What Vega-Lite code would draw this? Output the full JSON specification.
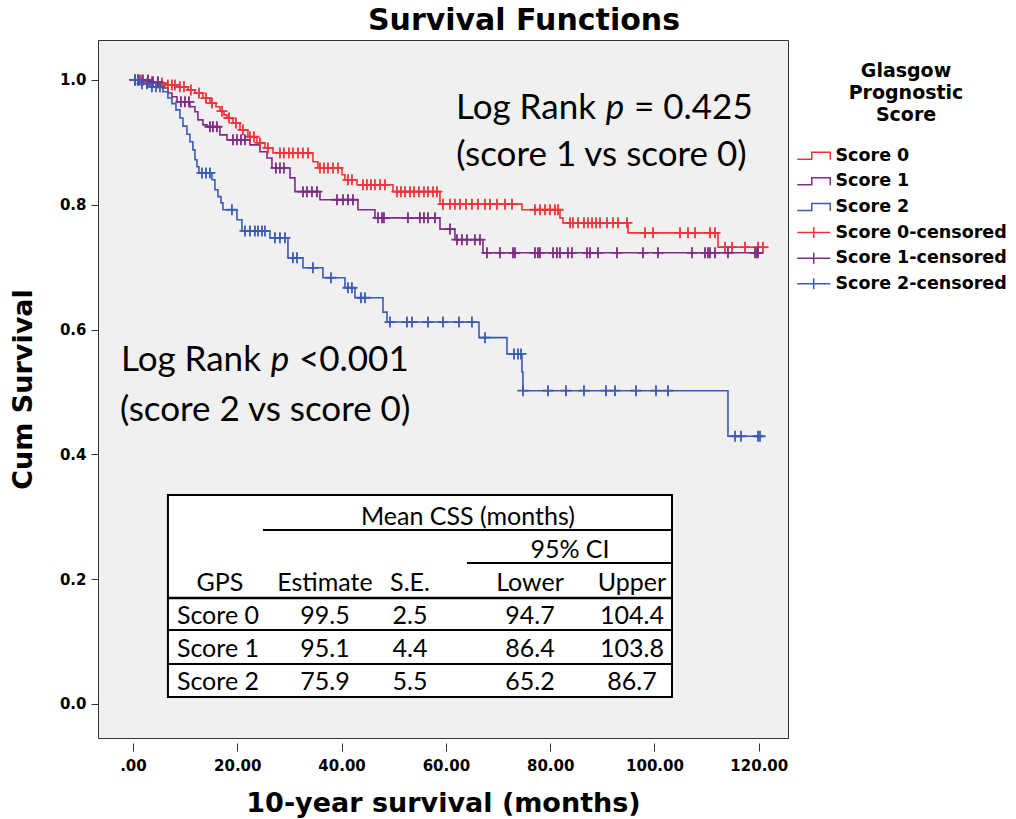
{
  "$schema": "https://vega.github.io/schema/vega-lite/v6.json",
  "width": 690,
  "height": 698,
  "autosize": {"type": "none"},
  "padding": {"left": 98, "top": 40, "right": 228, "bottom": 81},
  "background": "white",
  "title": {"text": "Survival Functions", "font": "DejaVu Sans", "fontSize": 30, "fontWeight": "bold", "color": "black", "anchor": "middle", "dx": 81, "offset": 4},
  "config": {"view": {"fill": "#f0f0f0", "stroke": "#333333", "strokeWidth": 1}},
  "datasets": {
    "curves": [
      {"series":"Score 0","t":0,"s":1.0},{"series":"Score 0","t":2.30,"s":0.997},{"series":"Score 0","t":4.22,"s":0.995},{"series":"Score 0","t":6.14,"s":0.992},{"series":"Score 0","t":8.44,"s":0.989},{"series":"Score 0","t":10.55,"s":0.984},{"series":"Score 0","t":11.89,"s":0.979},{"series":"Score 0","t":13.42,"s":0.971},{"series":"Score 0","t":14.76,"s":0.963},{"series":"Score 0","t":15.92,"s":0.957},{"series":"Score 0","t":16.68,"s":0.950},{"series":"Score 0","t":17.45,"s":0.944},{"series":"Score 0","t":18.02,"s":0.939},{"series":"Score 0","t":19.18,"s":0.931},{"series":"Score 0","t":20.52,"s":0.920},{"series":"Score 0","t":22.05,"s":0.909},{"series":"Score 0","t":23.78,"s":0.899},{"series":"Score 0","t":25.31,"s":0.891},{"series":"Score 0","t":26.85,"s":0.883},{"series":"Score 0","t":34.52,"s":0.869},{"series":"Score 0","t":35.47,"s":0.859},{"series":"Score 0","t":40.08,"s":0.848},{"series":"Score 0","t":40.65,"s":0.840},{"series":"Score 0","t":42.95,"s":0.832},{"series":"Score 0","t":49.86,"s":0.821},{"series":"Score 0","t":58.87,"s":0.801},{"series":"Score 0","t":74.59,"s":0.792},{"series":"Score 0","t":81.88,"s":0.779},{"series":"Score 0","t":82.45,"s":0.771},{"series":"Score 0","t":94.92,"s":0.755},{"series":"Score 0","t":112.18,"s":0.732},{"series":"Score 0","t":120.81,"s":0.732},
      {"series":"Score 1","t":0,"s":1.0},{"series":"Score 1","t":3.26,"s":0.997},{"series":"Score 1","t":5.18,"s":0.992},{"series":"Score 1","t":5.75,"s":0.987},{"series":"Score 1","t":6.71,"s":0.979},{"series":"Score 1","t":7.48,"s":0.973},{"series":"Score 1","t":8.44,"s":0.965},{"series":"Score 1","t":10.93,"s":0.957},{"series":"Score 1","t":11.89,"s":0.949},{"series":"Score 1","t":12.46,"s":0.936},{"series":"Score 1","t":13.42,"s":0.928},{"series":"Score 1","t":14.19,"s":0.925},{"series":"Score 1","t":16.68,"s":0.912},{"series":"Score 1","t":18.02,"s":0.904},{"series":"Score 1","t":22.44,"s":0.896},{"series":"Score 1","t":24.35,"s":0.885},{"series":"Score 1","t":25.70,"s":0.875},{"series":"Score 1","t":26.65,"s":0.859},{"series":"Score 1","t":30.11,"s":0.843},{"series":"Score 1","t":31.06,"s":0.821},{"series":"Score 1","t":35.86,"s":0.808},{"series":"Score 1","t":43.14,"s":0.792},{"series":"Score 1","t":46.40,"s":0.779},{"series":"Score 1","t":58.87,"s":0.761},{"series":"Score 1","t":61.74,"s":0.744},{"series":"Score 1","t":67.11,"s":0.723},{"series":"Score 1","t":120.81,"s":0.723},
      {"series":"Score 2","t":0,"s":1.0},{"series":"Score 2","t":1.34,"s":0.994},{"series":"Score 2","t":3.26,"s":0.989},{"series":"Score 2","t":5.75,"s":0.981},{"series":"Score 2","t":6.71,"s":0.971},{"series":"Score 2","t":7.48,"s":0.962},{"series":"Score 2","t":8.25,"s":0.952},{"series":"Score 2","t":9.01,"s":0.939},{"series":"Score 2","t":9.59,"s":0.926},{"series":"Score 2","t":10.35,"s":0.913},{"series":"Score 2","t":10.93,"s":0.901},{"series":"Score 2","t":11.5,"s":0.888},{"series":"Score 2","t":11.89,"s":0.872},{"series":"Score 2","t":12.27,"s":0.861},{"series":"Score 2","t":12.66,"s":0.851},{"series":"Score 2","t":15.15,"s":0.840},{"series":"Score 2","t":15.72,"s":0.824},{"series":"Score 2","t":16.30,"s":0.813},{"series":"Score 2","t":16.87,"s":0.803},{"series":"Score 2","t":17.26,"s":0.792},{"series":"Score 2","t":19.94,"s":0.776},{"series":"Score 2","t":20.90,"s":0.758},{"series":"Score 2","t":26.27,"s":0.747},{"series":"Score 2","t":29.72,"s":0.715},{"series":"Score 2","t":32.60,"s":0.699},{"series":"Score 2","t":36.43,"s":0.683},{"series":"Score 2","t":40.65,"s":0.667},{"series":"Score 2","t":42.57,"s":0.651},{"series":"Score 2","t":47.94,"s":0.628},{"series":"Score 2","t":48.71,"s":0.612},{"series":"Score 2","t":66.35,"s":0.587},{"series":"Score 2","t":71.72,"s":0.561},{"series":"Score 2","t":74.59,"s":0.532},{"series":"Score 2","t":74.78,"s":0.502},{"series":"Score 2","t":114.09,"s":0.429},{"series":"Score 2","t":120.81,"s":0.429}
    ],
    "censored": [
      {"series":"Score 0-censored","t":0.38,"s":1.0},{"series":"Score 0-censored","t":0.96,"s":1.0},{"series":"Score 0-censored","t":1.53,"s":1.0},{"series":"Score 0-censored","t":2.88,"s":0.997},{"series":"Score 0-censored","t":3.64,"s":0.997},{"series":"Score 0-censored","t":4.79,"s":0.995},{"series":"Score 0-censored","t":5.56,"s":0.995},{"series":"Score 0-censored","t":6.71,"s":0.992},{"series":"Score 0-censored","t":7.48,"s":0.992},{"series":"Score 0-censored","t":8.05,"s":0.992},{"series":"Score 0-censored","t":9.01,"s":0.989},{"series":"Score 0-censored","t":9.78,"s":0.989},{"series":"Score 0-censored","t":11.12,"s":0.984},{"series":"Score 0-censored","t":12.66,"s":0.979},{"series":"Score 0-censored","t":14.0,"s":0.971},{"series":"Score 0-censored","t":15.15,"s":0.963},{"series":"Score 0-censored","t":17.07,"s":0.950},{"series":"Score 0-censored","t":18.41,"s":0.939},{"series":"Score 0-censored","t":19.75,"s":0.931},{"series":"Score 0-censored","t":21.09,"s":0.920},{"series":"Score 0-censored","t":22.44,"s":0.909},{"series":"Score 0-censored","t":23.2,"s":0.909},{"series":"Score 0-censored","t":24.35,"s":0.899},{"series":"Score 0-censored","t":25.89,"s":0.891},{"series":"Score 0-censored","t":28.19,"s":0.883},{"series":"Score 0-censored","t":28.95,"s":0.883},{"series":"Score 0-censored","t":29.91,"s":0.883},{"series":"Score 0-censored","t":30.68,"s":0.883},{"series":"Score 0-censored","t":31.64,"s":0.883},{"series":"Score 0-censored","t":32.60,"s":0.883},{"series":"Score 0-censored","t":33.56,"s":0.883},{"series":"Score 0-censored","t":35.86,"s":0.859},{"series":"Score 0-censored","t":36.62,"s":0.859},{"series":"Score 0-censored","t":37.39,"s":0.859},{"series":"Score 0-censored","t":38.35,"s":0.859},{"series":"Score 0-censored","t":39.31,"s":0.859},{"series":"Score 0-censored","t":41.23,"s":0.840},{"series":"Score 0-censored","t":41.99,"s":0.840},{"series":"Score 0-censored","t":44.10,"s":0.832},{"series":"Score 0-censored","t":44.87,"s":0.832},{"series":"Score 0-censored","t":45.64,"s":0.832},{"series":"Score 0-censored","t":46.40,"s":0.832},{"series":"Score 0-censored","t":47.36,"s":0.832},{"series":"Score 0-censored","t":48.32,"s":0.832},{"series":"Score 0-censored","t":50.62,"s":0.821},{"series":"Score 0-censored","t":51.39,"s":0.821},{"series":"Score 0-censored","t":52.16,"s":0.821},{"series":"Score 0-censored","t":53.12,"s":0.821},{"series":"Score 0-censored","t":53.88,"s":0.821},{"series":"Score 0-censored","t":54.84,"s":0.821},{"series":"Score 0-censored","t":55.80,"s":0.821},{"series":"Score 0-censored","t":56.57,"s":0.821},{"series":"Score 0-censored","t":57.53,"s":0.821},{"series":"Score 0-censored","t":58.29,"s":0.821},{"series":"Score 0-censored","t":59.44,"s":0.801},{"series":"Score 0-censored","t":60.79,"s":0.801},{"series":"Score 0-censored","t":61.74,"s":0.801},{"series":"Score 0-censored","t":62.70,"s":0.801},{"series":"Score 0-censored","t":63.85,"s":0.801},{"series":"Score 0-censored","t":65.0,"s":0.801},{"series":"Score 0-censored","t":66.16,"s":0.801},{"series":"Score 0-censored","t":67.50,"s":0.801},{"series":"Score 0-censored","t":68.46,"s":0.801},{"series":"Score 0-censored","t":69.80,"s":0.801},{"series":"Score 0-censored","t":71.33,"s":0.801},{"series":"Score 0-censored","t":72.68,"s":0.801},{"series":"Score 0-censored","t":77.08,"s":0.792},{"series":"Score 0-censored","t":78.04,"s":0.792},{"series":"Score 0-censored","t":79.0,"s":0.792},{"series":"Score 0-censored","t":79.96,"s":0.792},{"series":"Score 0-censored","t":80.92,"s":0.792},{"series":"Score 0-censored","t":81.50,"s":0.792},{"series":"Score 0-censored","t":83.80,"s":0.771},{"series":"Score 0-censored","t":84.37,"s":0.771},{"series":"Score 0-censored","t":85.33,"s":0.771},{"series":"Score 0-censored","t":86.48,"s":0.771},{"series":"Score 0-censored","t":87.25,"s":0.771},{"series":"Score 0-censored","t":88.02,"s":0.771},{"series":"Score 0-censored","t":88.78,"s":0.771},{"series":"Score 0-censored","t":89.55,"s":0.771},{"series":"Score 0-censored","t":90.89,"s":0.771},{"series":"Score 0-censored","t":92.04,"s":0.771},{"series":"Score 0-censored","t":93.0,"s":0.771},{"series":"Score 0-censored","t":94.73,"s":0.771},{"series":"Score 0-censored","t":98.18,"s":0.755},{"series":"Score 0-censored","t":99.71,"s":0.755},{"series":"Score 0-censored","t":104.89,"s":0.755},{"series":"Score 0-censored","t":106.42,"s":0.755},{"series":"Score 0-censored","t":107.77,"s":0.755},{"series":"Score 0-censored","t":110.64,"s":0.755},{"series":"Score 0-censored","t":111.60,"s":0.755},{"series":"Score 0-censored","t":113.52,"s":0.732},{"series":"Score 0-censored","t":114.86,"s":0.732},{"series":"Score 0-censored","t":117.35,"s":0.732},{"series":"Score 0-censored","t":119.85,"s":0.732},{"series":"Score 0-censored","t":120.81,"s":0.732},
      {"series":"Score 1-censored","t":0.38,"s":1.0},{"series":"Score 1-censored","t":1.15,"s":1.0},{"series":"Score 1-censored","t":1.92,"s":1.0},{"series":"Score 1-censored","t":2.88,"s":1.0},{"series":"Score 1-censored","t":3.84,"s":0.997},{"series":"Score 1-censored","t":4.79,"s":0.997},{"series":"Score 1-censored","t":9.20,"s":0.965},{"series":"Score 1-censored","t":9.97,"s":0.965},{"series":"Score 1-censored","t":10.74,"s":0.965},{"series":"Score 1-censored","t":14.76,"s":0.925},{"series":"Score 1-censored","t":15.34,"s":0.925},{"series":"Score 1-censored","t":16.11,"s":0.925},{"series":"Score 1-censored","t":19.18,"s":0.904},{"series":"Score 1-censored","t":19.94,"s":0.904},{"series":"Score 1-censored","t":20.71,"s":0.904},{"series":"Score 1-censored","t":21.48,"s":0.904},{"series":"Score 1-censored","t":27.42,"s":0.859},{"series":"Score 1-censored","t":28.19,"s":0.859},{"series":"Score 1-censored","t":28.95,"s":0.859},{"series":"Score 1-censored","t":32.60,"s":0.821},{"series":"Score 1-censored","t":33.37,"s":0.821},{"series":"Score 1-censored","t":34.32,"s":0.821},{"series":"Score 1-censored","t":35.28,"s":0.821},{"series":"Score 1-censored","t":39.12,"s":0.808},{"series":"Score 1-censored","t":40.27,"s":0.808},{"series":"Score 1-censored","t":41.23,"s":0.808},{"series":"Score 1-censored","t":42.19,"s":0.808},{"series":"Score 1-censored","t":46.98,"s":0.779},{"series":"Score 1-censored","t":47.75,"s":0.779},{"series":"Score 1-censored","t":48.13,"s":0.779},{"series":"Score 1-censored","t":52.73,"s":0.779},{"series":"Score 1-censored","t":55.03,"s":0.779},{"series":"Score 1-censored","t":55.80,"s":0.779},{"series":"Score 1-censored","t":56.57,"s":0.779},{"series":"Score 1-censored","t":57.91,"s":0.779},{"series":"Score 1-censored","t":60.79,"s":0.761},{"series":"Score 1-censored","t":62.13,"s":0.744},{"series":"Score 1-censored","t":63.09,"s":0.744},{"series":"Score 1-censored","t":64.05,"s":0.744},{"series":"Score 1-censored","t":65.58,"s":0.744},{"series":"Score 1-censored","t":66.54,"s":0.744},{"series":"Score 1-censored","t":67.88,"s":0.723},{"series":"Score 1-censored","t":70.37,"s":0.723},{"series":"Score 1-censored","t":72.87,"s":0.723},{"series":"Score 1-censored","t":73.25,"s":0.723},{"series":"Score 1-censored","t":77.08,"s":0.723},{"series":"Score 1-censored","t":77.66,"s":0.723},{"series":"Score 1-censored","t":78.04,"s":0.723},{"series":"Score 1-censored","t":80.54,"s":0.723},{"series":"Score 1-censored","t":81.30,"s":0.723},{"series":"Score 1-censored","t":81.88,"s":0.723},{"series":"Score 1-censored","t":83.41,"s":0.723},{"series":"Score 1-censored","t":84.18,"s":0.723},{"series":"Score 1-censored","t":87.06,"s":0.723},{"series":"Score 1-censored","t":87.63,"s":0.723},{"series":"Score 1-censored","t":89.17,"s":0.723},{"series":"Score 1-censored","t":92.81,"s":0.723},{"series":"Score 1-censored","t":97.79,"s":0.723},{"series":"Score 1-censored","t":100.67,"s":0.723},{"series":"Score 1-censored","t":107.19,"s":0.723},{"series":"Score 1-censored","t":109.68,"s":0.723},{"series":"Score 1-censored","t":110.26,"s":0.723},{"series":"Score 1-censored","t":110.64,"s":0.723},{"series":"Score 1-censored","t":111.60,"s":0.723},{"series":"Score 1-censored","t":114.09,"s":0.723},{"series":"Score 1-censored","t":119.27,"s":0.723},{"series":"Score 1-censored","t":119.65,"s":0.723},{"series":"Score 1-censored","t":119.85,"s":0.723},
      {"series":"Score 2-censored","t":0.38,"s":1.0},{"series":"Score 2-censored","t":0.96,"s":1.0},{"series":"Score 2-censored","t":1.73,"s":0.994},{"series":"Score 2-censored","t":2.68,"s":0.994},{"series":"Score 2-censored","t":3.64,"s":0.989},{"series":"Score 2-censored","t":4.41,"s":0.989},{"series":"Score 2-censored","t":5.18,"s":0.989},{"series":"Score 2-censored","t":13.23,"s":0.851},{"series":"Score 2-censored","t":14.0,"s":0.851},{"series":"Score 2-censored","t":14.76,"s":0.851},{"series":"Score 2-censored","t":18.98,"s":0.792},{"series":"Score 2-censored","t":21.48,"s":0.758},{"series":"Score 2-censored","t":22.44,"s":0.758},{"series":"Score 2-censored","t":23.39,"s":0.758},{"series":"Score 2-censored","t":23.97,"s":0.758},{"series":"Score 2-censored","t":24.74,"s":0.758},{"series":"Score 2-censored","t":25.31,"s":0.758},{"series":"Score 2-censored","t":27.23,"s":0.747},{"series":"Score 2-censored","t":28.19,"s":0.747},{"series":"Score 2-censored","t":29.15,"s":0.747},{"series":"Score 2-censored","t":30.68,"s":0.715},{"series":"Score 2-censored","t":31.45,"s":0.715},{"series":"Score 2-censored","t":34.52,"s":0.699},{"series":"Score 2-censored","t":37.97,"s":0.683},{"series":"Score 2-censored","t":41.23,"s":0.667},{"series":"Score 2-censored","t":41.99,"s":0.667},{"series":"Score 2-censored","t":43.72,"s":0.651},{"series":"Score 2-censored","t":44.49,"s":0.651},{"series":"Score 2-censored","t":49.28,"s":0.612},{"series":"Score 2-censored","t":52.54,"s":0.612},{"series":"Score 2-censored","t":53.50,"s":0.612},{"series":"Score 2-censored","t":56.57,"s":0.612},{"series":"Score 2-censored","t":59.44,"s":0.612},{"series":"Score 2-censored","t":62.51,"s":0.612},{"series":"Score 2-censored","t":65.0,"s":0.612},{"series":"Score 2-censored","t":67.50,"s":0.587},{"series":"Score 2-censored","t":73.06,"s":0.561},{"series":"Score 2-censored","t":73.83,"s":0.561},{"series":"Score 2-censored","t":74.40,"s":0.561},{"series":"Score 2-censored","t":74.78,"s":0.502},{"series":"Score 2-censored","t":79.58,"s":0.502},{"series":"Score 2-censored","t":83.03,"s":0.502},{"series":"Score 2-censored","t":86.48,"s":0.502},{"series":"Score 2-censored","t":90.70,"s":0.502},{"series":"Score 2-censored","t":92.43,"s":0.502},{"series":"Score 2-censored","t":96.45,"s":0.502},{"series":"Score 2-censored","t":100.29,"s":0.502},{"series":"Score 2-censored","t":102.59,"s":0.502},{"series":"Score 2-censored","t":115.44,"s":0.429},{"series":"Score 2-censored","t":116.59,"s":0.429},{"series":"Score 2-censored","t":119.85,"s":0.429},{"series":"Score 2-censored","t":120.23,"s":0.429}
    ],
    "table": [
      {"gps":"Score 0","estimate":99.5,"se":2.5,"lower":94.7,"upper":104.4},
      {"gps":"Score 1","estimate":95.1,"se":4.4,"lower":86.4,"upper":103.8},
      {"gps":"Score 2","estimate":75.9,"se":5.5,"lower":65.2,"upper":86.7}
    ],
    "one": [{}]
  },
  "layer": [
    {
      "layer": [
        {
          "data": {"name": "curves"},
          "mark": {"type": "line", "interpolate": "step-after", "strokeWidth": 1.6},
          "encoding": {
            "x": {"field": "t", "type": "quantitative",
              "scale": {"domain": [-6.7, 125.6], "nice": false, "zero": false},
              "axis": {"title": "10-year survival (months)", "values": [0, 20, 40, 60, 80, 100, 120],
                "labelExpr": "datum.value == 0 ? '.00' : format(datum.value, '.2f')",
                "labelFont": "DejaVu Sans", "labelFontSize": 15, "labelFontWeight": "bold", "labelColor": "black",
                "tickColor": "#333333", "tickSize": 8, "offset": 5, "domain": false, "grid": false, "labelPadding": 7,
                "titleFont": "DejaVu Sans", "titleFontSize": 27, "titleFontWeight": "bold", "titleColor": "black", "titlePadding": 17}},
            "y": {"field": "s", "type": "quantitative",
              "scale": {"domain": [-0.0545, 1.064], "nice": false, "zero": false},
              "axis": {"title": "Cum Survival", "values": [0, 0.2, 0.4, 0.6, 0.8, 1.0], "format": ".1f",
                "labelFont": "DejaVu Sans", "labelFontSize": 15, "labelFontWeight": "bold", "labelColor": "black",
                "tickColor": "#333333", "tickSize": 7, "domain": false, "grid": false, "labelPadding": 5,
                "titleFont": "DejaVu Sans", "titleFontSize": 27, "titleFontWeight": "bold", "titleColor": "black", "titlePadding": 22}},
            "color": {"field": "series", "type": "nominal",
              "scale": {"domain": ["Score 0", "Score 1", "Score 2", "Score 0-censored", "Score 1-censored", "Score 2-censored"],
                "range": ["#f0333b", "#7e2a86", "#3a5ab4", "#f0333b", "#7e2a86", "#3a5ab4"]},
              "legend": {"title": ["Glasgow", "Prognostic", "Score"], "orient": "none", "legendX": 707, "legendY": 22,
                "titleFont": "DejaVu Sans", "titleFontSize": 19, "titleFontWeight": "bold", "titleColor": "black",
                "titleAnchor": "middle", "titleAlign": "center", "titleLineHeight": 22, "titlePadding": 22,
                "labelFont": "DejaVu Sans", "labelFontSize": 17.5, "labelFontWeight": "bold", "labelColor": "black", "labelLimit": 0,
                "labelOffset": 13, "symbolSize": 100, "rowPadding": 6.6, "padding": 0,
                "encode": {"symbols": {"update": {
                  "shape": {"signal": "indexof(datum.value, 'censored') >= 0 ? 'M-3.3,0H3.3M0,-1.1V1.1' : 'M-3.3,0.7H-0.4V-0.7H3.3V0.8'"},
                  "fill": {"value": "transparent"}, "strokeWidth": {"value": 1.5}, "opacity": {"value": 1}}}}}}
          }
        },
        {
          "data": {"name": "censored"},
          "mark": {"type": "point", "shape": "M-1,0H1M0,-1V1", "filled": false, "size": 121, "strokeWidth": 1.8, "opacity": 1},
          "encoding": {
            "x": {"field": "t", "type": "quantitative"},
            "y": {"field": "s", "type": "quantitative"},
            "color": {"field": "series", "type": "nominal"}
          }
        },
        {
          "data": {"name": "one"},
          "mark": {"type": "rect", "fill": "white", "stroke": "black", "strokeWidth": 2},
          "encoding": {
            "x": {"datum": 6.71, "type": "quantitative"}, "x2": {"datum": 103.36},
            "y": {"datum": 0.3349, "type": "quantitative"}, "y2": {"datum": 0.0112}
          }
        },
        {
          "data": {"name": "one"},
          "mark": {"type": "rule", "color": "black", "strokeWidth": 2},
          "encoding": {"x": {"datum": 24.93, "type": "quantitative"}, "x2": {"datum": 103.36}, "y": {"datum": 0.2788, "type": "quantitative"}}
        },
        {
          "data": {"name": "one"},
          "mark": {"type": "rule", "color": "black", "strokeWidth": 2},
          "encoding": {"x": {"datum": 64.05, "type": "quantitative"}, "x2": {"datum": 103.36}, "y": {"datum": 0.2260, "type": "quantitative"}}
        },
        {
          "data": {"name": "one"},
          "mark": {"type": "rule", "color": "black", "strokeWidth": 2.5},
          "encoding": {"x": {"datum": 6.71, "type": "quantitative"}, "x2": {"datum": 103.36}, "y": {"datum": 0.1699, "type": "quantitative"}}
        },
        {
          "data": {"name": "one"},
          "mark": {"type": "rule", "color": "black", "strokeWidth": 2},
          "encoding": {"x": {"datum": 6.71, "type": "quantitative"}, "x2": {"datum": 103.36}, "y": {"datum": 0.1186, "type": "quantitative"}}
        },
        {
          "data": {"name": "one"},
          "mark": {"type": "rule", "color": "black", "strokeWidth": 2},
          "encoding": {"x": {"datum": 6.71, "type": "quantitative"}, "x2": {"datum": 103.36}, "y": {"datum": 0.0641, "type": "quantitative"}}
        },
        {
          "data": {"name": "one"},
          "mark": {"type": "text", "font": "Lato", "fontSize": 35, "align": "right", "baseline": "alphabetic", "color": "black"},
          "encoding": {"x": {"datum": 88.78, "type": "quantitative"}, "y": {"datum": 0.937, "type": "quantitative"}, "text": {"value": "Log Rank"}}
        },
        {
          "data": {"name": "one"},
          "mark": {"type": "text", "font": "Lato", "fontSize": 35, "fontStyle": "italic", "align": "center", "baseline": "alphabetic", "color": "black"},
          "encoding": {"x": {"datum": 92.43, "type": "quantitative"}, "y": {"datum": 0.937, "type": "quantitative"}, "text": {"value": "p"}}
        },
        {
          "data": {"name": "one"},
          "mark": {"type": "text", "font": "Lato", "fontSize": 35, "align": "left", "baseline": "alphabetic", "color": "black"},
          "encoding": {"x": {"datum": 96.07, "type": "quantitative"}, "y": {"datum": 0.937, "type": "quantitative"}, "text": {"value": "= 0.425"}}
        },
        {
          "data": {"name": "one"},
          "mark": {"type": "text", "font": "Lato", "fontSize": 35, "align": "center", "baseline": "alphabetic", "color": "black"},
          "encoding": {"x": {"datum": 89.84, "type": "quantitative"}, "y": {"datum": 0.862, "type": "quantitative"}, "text": {"value": "(score 1 vs score 0)"}}
        },
        {
          "data": {"name": "one"},
          "mark": {"type": "text", "font": "Lato", "fontSize": 35, "align": "right", "baseline": "alphabetic", "color": "black"},
          "encoding": {"x": {"datum": 24.54, "type": "quantitative"}, "y": {"datum": 0.534, "type": "quantitative"}, "text": {"value": "Log Rank"}}
        },
        {
          "data": {"name": "one"},
          "mark": {"type": "text", "font": "Lato", "fontSize": 35, "fontStyle": "italic", "align": "center", "baseline": "alphabetic", "color": "black"},
          "encoding": {"x": {"datum": 28.19, "type": "quantitative"}, "y": {"datum": 0.534, "type": "quantitative"}, "text": {"value": "p"}}
        },
        {
          "data": {"name": "one"},
          "mark": {"type": "text", "font": "Lato", "fontSize": 35, "align": "left", "baseline": "alphabetic", "color": "black"},
          "encoding": {"x": {"datum": 31.83, "type": "quantitative"}, "y": {"datum": 0.534, "type": "quantitative"}, "text": {"value": "<0.001"}}
        },
        {
          "data": {"name": "one"},
          "mark": {"type": "text", "font": "Lato", "fontSize": 35, "align": "left", "baseline": "alphabetic", "color": "black"},
          "encoding": {"x": {"datum": -2.49, "type": "quantitative"}, "y": {"datum": 0.454, "type": "quantitative"}, "text": {"value": "(score 2 vs score 0)"}}
        }
      ]
    },
    {
      "layer": [
        {
          "data": {"name": "table"},
          "mark": {"type": "text", "font": "Lato", "fontSize": 25, "align": "center", "baseline": "middle", "color": "black"},
          "encoding": {
            "x": {"datum": 16.3, "type": "quantitative"},
            "y": {"field": "gps", "type": "nominal", "axis": null,
              "scale": {"type": "point", "domain": ["mean", "ci", "head", "Score 0", "Score 1", "Score 2"], "range": [477, 642], "padding": 0}},
            "text": {"field": "gps"}
          }
        },
        {
          "data": {"name": "table"},
          "mark": {"type": "text", "font": "Lato", "fontSize": 25, "align": "center", "baseline": "middle", "color": "black"},
          "encoding": {"x": {"datum": 36.82, "type": "quantitative"}, "y": {"field": "gps", "type": "nominal"}, "text": {"field": "estimate", "format": ".1f"}}
        },
        {
          "data": {"name": "table"},
          "mark": {"type": "text", "font": "Lato", "fontSize": 25, "align": "center", "baseline": "middle", "color": "black"},
          "encoding": {"x": {"datum": 53.12, "type": "quantitative"}, "y": {"field": "gps", "type": "nominal"}, "text": {"field": "se", "format": ".1f"}}
        },
        {
          "data": {"name": "table"},
          "mark": {"type": "text", "font": "Lato", "fontSize": 25, "align": "center", "baseline": "middle", "color": "black"},
          "encoding": {"x": {"datum": 76.13, "type": "quantitative"}, "y": {"field": "gps", "type": "nominal"}, "text": {"field": "lower", "format": ".1f"}}
        },
        {
          "data": {"name": "table"},
          "mark": {"type": "text", "font": "Lato", "fontSize": 25, "align": "center", "baseline": "middle", "color": "black"},
          "encoding": {"x": {"datum": 95.69, "type": "quantitative"}, "y": {"field": "gps", "type": "nominal"}, "text": {"field": "upper", "format": ".1f"}}
        },
        {
          "data": {"name": "one"},
          "mark": {"type": "text", "font": "Lato", "fontSize": 25, "align": "center", "baseline": "middle", "color": "black"},
          "encoding": {"x": {"datum": 64.24, "type": "quantitative"}, "y": {"datum": "mean", "type": "nominal"}, "text": {"value": "Mean CSS (months)"}}
        },
        {
          "data": {"name": "one"},
          "mark": {"type": "text", "font": "Lato", "fontSize": 25, "align": "center", "baseline": "middle", "color": "black"},
          "encoding": {"x": {"datum": 83.80, "type": "quantitative"}, "y": {"datum": "ci", "type": "nominal"}, "text": {"value": "95% CI"}}
        },
        {
          "data": {"name": "one"},
          "mark": {"type": "text", "font": "Lato", "fontSize": 25, "align": "center", "baseline": "middle", "color": "black"},
          "encoding": {"x": {"datum": 16.68, "type": "quantitative"}, "y": {"datum": "head", "type": "nominal"}, "text": {"value": "GPS"}}
        },
        {
          "data": {"name": "one"},
          "mark": {"type": "text", "font": "Lato", "fontSize": 25, "align": "center", "baseline": "middle", "color": "black"},
          "encoding": {"x": {"datum": 36.82, "type": "quantitative"}, "y": {"datum": "head", "type": "nominal"}, "text": {"value": "Estimate"}}
        },
        {
          "data": {"name": "one"},
          "mark": {"type": "text", "font": "Lato", "fontSize": 25, "align": "center", "baseline": "middle", "color": "black"},
          "encoding": {"x": {"datum": 53.12, "type": "quantitative"}, "y": {"datum": "head", "type": "nominal"}, "text": {"value": "S.E."}}
        },
        {
          "data": {"name": "one"},
          "mark": {"type": "text", "font": "Lato", "fontSize": 25, "align": "center", "baseline": "middle", "color": "black"},
          "encoding": {"x": {"datum": 76.13, "type": "quantitative"}, "y": {"datum": "head", "type": "nominal"}, "text": {"value": "Lower"}}
        },
        {
          "data": {"name": "one"},
          "mark": {"type": "text", "font": "Lato", "fontSize": 25, "align": "center", "baseline": "middle", "color": "black"},
          "encoding": {"x": {"datum": 95.69, "type": "quantitative"}, "y": {"datum": "head", "type": "nominal"}, "text": {"value": "Upper"}}
        }
      ]
    }
  ],
  "resolve": {"scale": {"y": "independent"}}
}
